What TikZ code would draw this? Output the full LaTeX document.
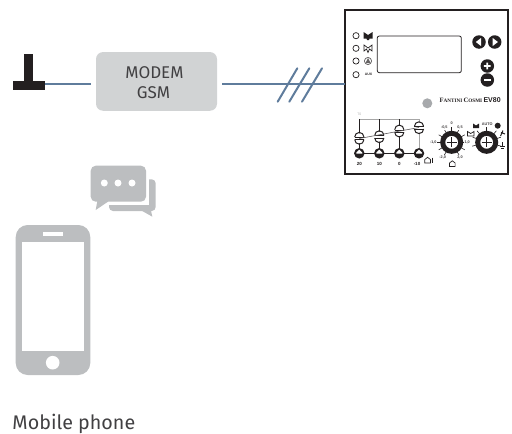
\documentclass[tikz,border=0pt]{standalone}
\usepackage{fontspec}
\setmainfont{Fira Sans}
\newfontfamily\serifsc{Liberation Serif}
\newfontfamily\helv{Liberation Sans}
\definecolor{wire}{HTML}{5F7C9C}
\definecolor{boxgrey}{HTML}{D1D3D4}
\definecolor{icongrey}{HTML}{BCBEC0}
\definecolor{ink}{HTML}{231F20}
\definecolor{txt}{HTML}{414042}
\definecolor{dotgrey}{HTML}{A7A9AC}
\tikzset{
  wireline/.style={draw=wire,line width=2pt},
  modembox/.style={fill=boxgrey,rounded corners=7pt,minimum width=121pt,minimum height=58.7pt,inner sep=0pt},
  modemtext/.style={text=txt,font=\fontsize{17}{20}\selectfont,inner sep=0pt},
  panelbox/.style={draw=ink,line width=1.8pt,fill=white,minimum width=162.4pt,minimum height=164pt,inner sep=0pt},
  led/.style={circle,draw=ink,line width=0.7pt,minimum size=6.2pt,inner sep=0pt,fill=white},
  btn/.style={circle,fill=ink,minimum size=13.5pt,inner sep=0pt},
  tiny/.style={font=\helv\bfseries\fontsize{4.5}{5}\selectfont,text=ink,inner sep=0pt},
  knobtxt/.style={font=\helv\bfseries\fontsize{3.8}{4}\selectfont,text=ink!85,inner sep=0pt},
  knob/.style={circle,draw=ink,line width=5pt,fill=white,minimum size=18pt,inner sep=0pt},
  foot/.style={circle,fill=ink,minimum size=10.5pt,inner sep=0pt},
  track/.style={draw=ink,line width=0.9pt},
  gtrack/.style={draw=black!35,line width=0.9pt},
  icon/.style={fill=icongrey,draw=none}
}
\begin{document}
\begin{tikzpicture}[x=1pt,y=-1pt]
\useasboundingbox (0,0) rectangle (512,434);
% antenna
\node[fill=ink,minimum width=32pt,minimum height=9.3pt,inner sep=0pt] (antbase) at (29,85.35) {};
\node[fill=ink,minimum width=9.3pt,minimum height=27pt,inner sep=0pt] (antmast) at (28.7,67.5) {};
% modem
\node[modembox] (modem) at (156.5,81.4) {};
\node[modemtext] (modemtxt) at (154.5,73) {MODEM};
\node[modemtext] (gsmtxt) at (153.5,93) {GSM};
% panel
\node[panelbox] (panel) at (426.5,92) {};
% wires
\coordinate (w1) at (45,84.4);
\coordinate (w2) at (91,84.4);
\coordinate (w3) at (222,84.4);
\coordinate (w4) at (345,84.4);
\draw[wireline] (w1) -- (w2);
\draw[wireline] (w3) -- (w4);
\foreach \a/\b in {277.7/297.3,289.3/309.3,302/322}
  \draw[wireline,line cap=round] (\a,101.7) -- (\b,68.3);
% LEDs
\foreach \n/\y in {a/35.7,b/48.3,c/61,d/74.7}
  \node[led] (led\n) at (356,\y) {};
% LED icons
\fill[ink] (363.5,32) -- (368,35) -- (372.5,32) -- (372.5,38.5) -- (369.5,38.5) -- (369,40) -- (367,40) -- (366.5,38.5) -- (363.5,38.5) -- cycle;
\draw[ink,line width=0.7pt] (364,45) -- (368,48) -- (372,45) -- (372,51) -- (369.5,49) -- (368,52.5) -- (366.5,49) -- (364,51) -- cycle;
\draw[ink!70,line width=0.7pt] (368,61) circle (3.6pt);
\fill[ink!70] (368,58) -- (370.5,63) -- (365.5,63) -- cycle;
\node[tiny,font=\helv\bfseries\fontsize{3.4}{4}\selectfont] (aux) at (368.5,74.7) {AUX};
% display
\draw[ink,line width=0.8pt,rounded corners=2pt,fill=white] (377.3,36) rectangle (461.3,72.7);
% buttons
\node[btn] (bl) at (479,42) {};
\node[btn] (br) at (494.7,42) {};
\fill[white] (475.8,42) -- (481,38) -- (481,46) -- cycle;
\fill[white] (497.9,42) -- (492.7,38) -- (492.7,46) -- cycle;
\node[btn] (bp) at (487.3,66) {};
\node[btn] (bm) at (487.3,80) {};
\fill[white] (486.4,62.6) rectangle (488.2,69.4) (483.9,65.1) rectangle (490.7,66.9);
\fill[white] (483.9,79.1) rectangle (490.7,80.9);
% brand
\node[circle,fill=dotgrey,minimum size=10pt,inner sep=0pt] (greydot) at (427.3,103.3) {};
\node[inner sep=0pt,text=ink,anchor=west] (brand) at (439.3,100.5) {\serifsc\bfseries\fontsize{6.6}{7}\selectfont F\fontsize{5.2}{7}\selectfont ANTINI \fontsize{6.6}{7}\selectfont C\fontsize{5.2}{7}\selectfont OSMI \helv\fontsize{7}{7}\selectfont EV80};
% sliders
\draw[gtrack] (359.3,119) -- (419,119);
\draw[gtrack] (419,119) -- (419,153);
\foreach \x in {359.3,379.3,399.3} \draw[track] (\x,119) -- (\x,153);
\draw[track,line width=1.2pt] (359.3,153.3) -- (419,153.3);
\foreach \x in {359.3,379.3,399.3,419}{
  \node[foot] at (\x,153.3) {};
  \fill[white] (\x,149.7) -- (\x+3,152.6) -- (\x+3,153.6) -- (\x-3,153.6) -- (\x-3,152.6) -- cycle;
}
\foreach \x/\lab in {359.3/20,379.3/10,399.3/0,417/-10}
  \node[tiny] at (\x,164.3) {\lab};
\node[font=\helv\fontsize{3.4}{4}\selectfont,text=black!30,inner sep=0pt] (t0) at (359.3,114) {T0};
\foreach \x/\y in {359.3/138.3,379.3/136.7,399.3/131,419/127.7}{
  \fill[white] (\x,\y) circle (5pt);
  \draw[ink,line width=1pt] (\x-4.6,\y-1.3) arc[start angle=180,end angle=0,radius=4.6pt];
  \draw[ink,line width=1pt] (\x-4.6,\y+1.3) arc[start angle=180,end angle=360,radius=4.6pt];
  \draw[ink,line width=0.4pt] (\x-4.6,\y-1.3) -- (\x+4.6,\y-1.3) (\x-4.6,\y+1.3) -- (\x+4.6,\y+1.3);
}
\draw[ink!75,line width=0.6pt] (359.3,138.5) -- (419,127.5);
% knobs
\foreach \a in {90,60,120,30,150,0,180,-30,210,-60,240}
  \draw[ink,line width=0.6pt] (451.7,142.3) ++(\a:11pt) -- ++(\a:4pt);
\foreach \a in {90,130,50,20,160,-15,195}
  \draw[ink,line width=0.6pt] (486.7,142.3) ++(\a:11pt) -- ++(\a:4pt);
\node[knob] (k1) at (451.7,142.3) {};
\node[knob] (k2) at (486.7,142.3) {};
\foreach \k in {k1,k2}
  \draw[ink,line width=0.9pt] (\k)+(-5,0) -- +(5,0) (\k)+(0,-5) -- +(0,5);
\foreach \x/\y/\t in {451.7/123.3/0,444.3/127.7/{-0,5},460/127.7/{0,5},433.3/142.3/{-1,0},467.2/142.3/{1,0},442.7/157.3/{-2,0},460/157.3/{2,0},487.3/124.3/AUTO}
  \node[knobtxt,fill=white,inner sep=0.2pt] at (\x,\y) {\t};
% knob 2 symbols
\fill[ink] (497.7,125.7) circle (3pt);
\fill[ink] (473,123.5) -- (476,125.5) -- (479,123.5) -- (479,128) -- (473,128) -- cycle;
\draw[ink,line width=0.7pt,fill=white] (467.5,131.5) -- (470.7,133.5) -- (474,131.5) -- (474,136) -- (467.5,136) -- cycle;
\draw[ink,line width=1pt] (500.5,136) -- (503,130.5) (501,132.5) -- (505,134);
\draw[ink,line width=0.8pt] (502.3,142) -- (502.3,147) (499.8,146) -- (504.8,146) (500.5,148) -- (504,148);
% houses
\draw[ink,line width=0.7pt] (449.5,166.5) -- (449.5,163) -- (452.3,160.8) -- (455.1,163) -- (455.1,166.5) -- cycle;
\draw[ink,line width=0.7pt] (424.8,163) -- (424.8,159.5) -- (427.6,157.3) -- (430.4,159.5) -- (430.4,163) -- cycle;
\draw[ink,line width=0.6pt] (432,157.5) -- (432,161.5) (432,162.3) -- (432,163);
% chat bubbles
\fill[icon,rounded corners=4pt] (109,179.3) rectangle (155.7,211);
\fill[icon] (142.3,211) -- (152.3,216.7) -- (150.5,208) -- cycle;
\fill[white] (100,170) rectangle (149.3,205);
\fill[icon,rounded corners=5pt] (90.7,165.7) rectangle (146,201.7);
\fill[icon] (97.7,199) -- (95.7,210) -- (108,201.7) -- (108,199) -- cycle;
\foreach \x in {104.3,118,132} \fill[white] (\x,183) circle (3.5pt);
% phone
\fill[icon,rounded corners=12pt] (15.7,225) rectangle (90.3,375);
\fill[white] (22,242.3) rectangle (83.7,351);
\fill[white] (42.7,231.7) rectangle (63,236);
\fill[white] (52.7,362.7) circle (6.8pt);
\node[anchor=base west,inner sep=0pt,text=txt,font=\fontsize{19.7}{22}\selectfont] (mobile) at (12.3,429) {Mobile phone};
\end{tikzpicture}
\end{document}
